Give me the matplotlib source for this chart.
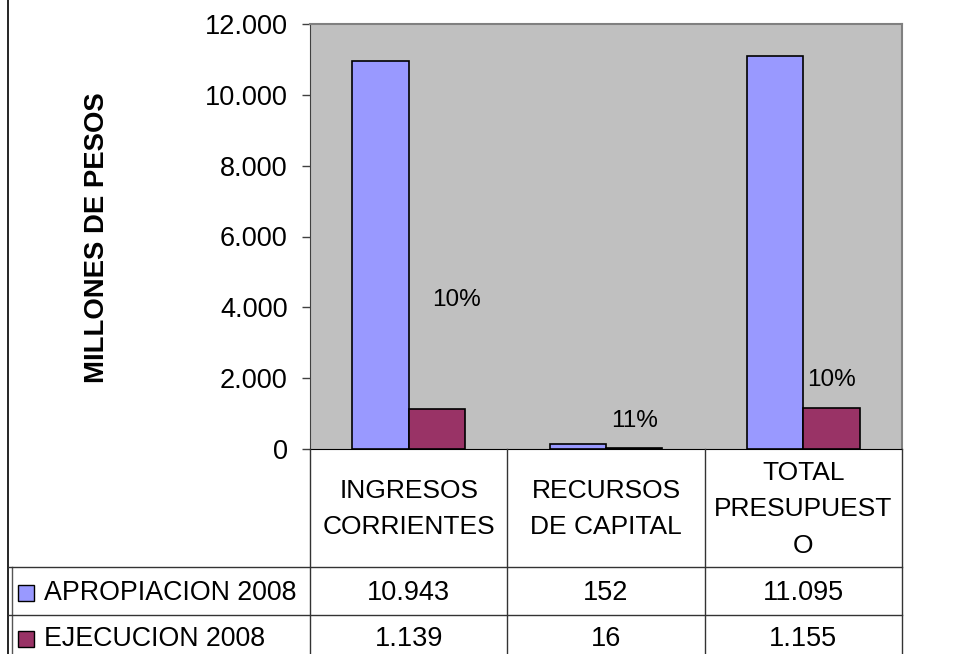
import numpy as np
import matplotlib.pyplot as plt
from matplotlib.lines import Line2D
from matplotlib.patches import Rectangle
from matplotlib.transforms import blended_transform_factory

plt.rcParams['font.family'] = ['Liberation Sans', 'DejaVu Sans']

# datos
categorias = ["INGRESOS\nCORRIENTES", "RECURSOS\nDE CAPITAL", "TOTAL\nPRESUPUEST\nO"]
series = ["APROPIACION 2008", "EJECUCION 2008"]
apropiacion = [10943, 152, 11095]
ejecucion = [1139, 16, 1155]
porcentajes = ["10%", "11%", "10%"]
# posicion (valor) de las etiquetas de porcentaje
pos_etiqueta = [4200, 780, 1960]
desp_etiqueta = [0.1, 0.0, 0.0]
colores = ["#9999FF", "#993366"]


def fmt(v):
    return "{:,}".format(v).replace(",", ".")


fig = plt.figure(figsize=(9.76, 6.54), dpi=100)
ax = fig.add_axes([310 / 976, 1 - 449 / 654, 592 / 976, 425 / 654])
ax.set_facecolor("#C0C0C0")

x = np.arange(len(categorias))
ancho = 2 / 7
ax.bar(x - ancho / 2, apropiacion, ancho, color=colores[0],
       edgecolor="black", linewidth=1.2, zorder=3)
ax.bar(x + ancho / 2, ejecucion, ancho, color=colores[1],
       edgecolor="black", linewidth=1.2, zorder=3)

for i in range(len(categorias)):
    ax.text(x[i] + ancho / 2 + desp_etiqueta[i], pos_etiqueta[i], porcentajes[i],
            ha="center", va="center", fontsize=17.5, zorder=4)

ax.set_xlim(-0.5, len(categorias) - 0.5)
ax.set_ylim(0, 12000)
ax.set_yticks(np.arange(0, 12001, 2000))
ax.set_yticklabels([fmt(v) for v in np.arange(0, 12001, 2000)], fontsize=19.5)
ax.set_xticks([])
ax.tick_params(axis="y", length=6, width=1, color="#404040", pad=10)
for lado in ["top", "right"]:
    ax.spines[lado].set_color("#808080")
    ax.spines[lado].set_linewidth(1.5)
ax.spines["left"].set_color("#404040")
ax.spines["bottom"].set_color("black")

fig.text(97 / 976, 1 - 238 / 654, "MILLONES DE PESOS", rotation=90,
         ha="center", va="center", fontsize=19.8, fontweight="bold")

# tabla de datos
tr = blended_transform_factory(ax.transData, fig.transFigure)
y_cab = 1 - 449 / 654
y_f1 = 1 - 567 / 654
y_f2 = 1 - 615 / 654
yc1 = 1 - 593 / 654
yc2 = 1 - 639 / 654

fig.add_artist(Line2D([8 / 976, 8 / 976], [0, 1], color="black", lw=1.2,
                      transform=fig.transFigure))
fig.add_artist(Line2D([12 / 976, 12 / 976], [0, y_f1], color="#555555", lw=1,
                      transform=fig.transFigure))
for yy in [y_f1, y_f2]:
    fig.add_artist(Line2D([8 / 976, 902 / 976], [yy, yy], color="#333333", lw=1,
                          transform=fig.transFigure))
for xb in np.arange(len(categorias) + 1) - 0.5:
    fig.add_artist(Line2D([xb, xb], [0, y_cab], color="#333333", lw=1,
                          transform=tr))

for i, cat in enumerate(categorias):
    fig.text(x[i], (y_cab + y_f1) / 2 - 0.002, cat, transform=tr, ha="center",
             va="center", fontsize=19, linespacing=1.65)
    fig.text(x[i], yc1, fmt(apropiacion[i]), transform=tr,
             ha="center", va="center", fontsize=19.5)
    fig.text(x[i], yc2, fmt(ejecucion[i]), transform=tr,
             ha="center", va="center", fontsize=19.5)

for nombre, col, yc in zip(series, colores, [yc1, yc2]):
    fig.add_artist(Rectangle((18 / 976, yc - 8 / 654), 16 / 976, 16 / 654,
                             facecolor=col, edgecolor="black", lw=1,
                             transform=fig.transFigure))
    fig.text(44 / 976, yc, nombre, ha="left", va="center", fontsize=19.3)

fig.savefig("out.png", dpi=100)
